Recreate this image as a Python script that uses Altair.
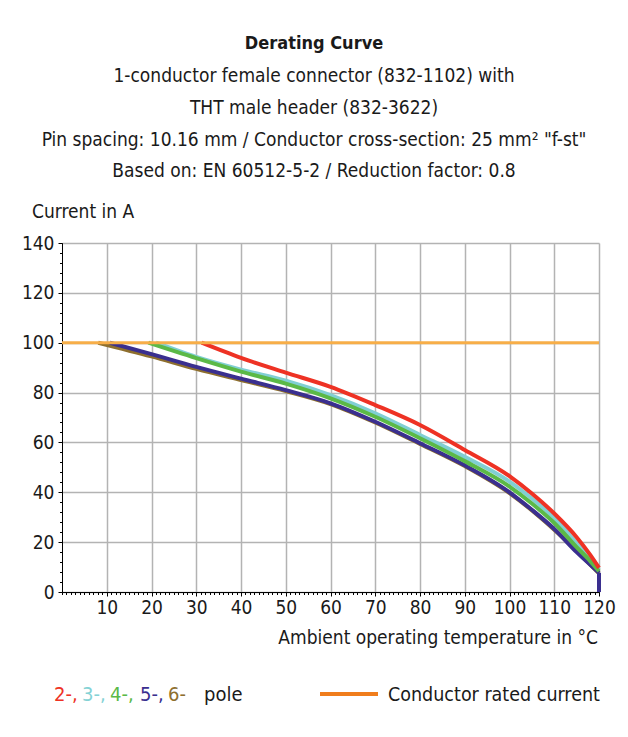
import altair as alt
import pandas as pd

FONT = "Liberation Sans Narrow, DejaVu Sans Condensed, Roboto, sans-serif"
INK = "#1a1a1a"

# ambient temperature (deg C) / current (A)
red_t = [31.2, 40, 50, 60, 70, 80, 90, 100, 105, 110, 115, 118, 120]
red_i = [100, 93.9, 88.0, 82.3, 75.0, 67.0, 57.0, 46.5, 39.5, 31.5, 22.0, 15.0, 9.7]

cyan_t = [21.0, 30, 40, 50, 60, 70, 80, 90, 100, 105, 110, 115, 118, 120]
cyan_i = [100, 94.3, 89.2, 84.8, 79.0, 71.7, 63.0, 54.2, 44.3, 37.5, 29.7, 19.5, 13.5, 9.0]

green_t = [19.3, 30, 40, 50, 60, 70, 80, 90, 100, 105, 110, 115, 118, 120]
green_i = [100, 93.8, 88.4, 83.6, 77.7, 70.3, 61.7, 52.5, 42.3, 35.5, 27.7, 18.0, 12.5, 8.3]

blue_t = [10.7, 20, 30, 40, 50, 60, 70, 80, 90, 100, 105, 110, 115, 118, 120]
blue_i = [100, 95.4, 90.3, 85.6, 81.0, 75.7, 68.3, 59.7, 50.8, 40.0, 33.0, 25.3, 16.0, 11.0, 7.7]

brown_t = [8.1, 20, 30, 40, 50, 60, 70, 80, 90, 100, 110, 120]
brown_i = [100, 94.5, 89.5, 85.0, 80.6, 75.4, 68.0, 59.4, 50.5, 39.7, 25.0, 7.5]

rated_t = [0, 120]
rated_i = [100, 100]

x_major = list(range(10, 121, 10))
y_major = list(range(0, 141, 20))
x_minor = list(range(0, 121, 1))
y_minor = list(range(0, 141, 4))

title_lines = [
    "1-conductor female connector (832-1102) with",
    "THT male header (832-3622)",
    "Pin spacing: 10.16 mm / Conductor cross-section: 25 mm² \"f-st\"",
    "Based on: EN 60512-5-2 / Reduction factor: 0.8",
]
legend_parts = ["2-,", "3-,", "4-,", "5-,", "6-"]
legend_colors = ["#ee3224", "#84d2d5", "#5bb947", "#3a2f8f", "#8e6f2e"]

sx = alt.Scale(domain=[0, 120], nice=False, zero=False)
sy = alt.Scale(domain=[0, 140], nice=False, zero=False)

major_x = alt.Axis(values=x_major, title=None, grid=True, gridColor="#b3b3b3", gridWidth=1.5,
                   domainColor="black", tickColor="black", tickSize=4, labelPadding=2,
                   labelFontSize=19, labelColor=INK, labelFont=FONT, labelFlush=False,
                   labelAngle=0, orient="bottom")
major_y = alt.Axis(values=y_major, title=None, grid=True, gridColor="#b3b3b3", gridWidth=1.5,
                   domainColor="black", tickColor="black", tickSize=4, labelPadding=4,
                   labelFontSize=19, labelColor=INK, labelFont=FONT, labelFlush=False,
                   orient="left")
minor_x = alt.Axis(values=x_minor, title=None, grid=False, labels=False, domain=False,
                   tickColor="black", tickSize=2.5, orient="bottom")
minor_y = alt.Axis(values=y_minor, title=None, grid=False, labels=False, domain=False,
                   tickColor="black", tickSize=2.5, orient="left")


def curve(ts, vals, color, xaxis=None, yaxis=None, width=4):
    df = pd.DataFrame({"t": ts, "i": vals})
    return alt.Chart(df).mark_line(color=color, strokeWidth=width, interpolate="monotone").encode(
        x=alt.X("t:Q", scale=sx, axis=xaxis),
        y=alt.Y("i:Q", scale=sy, axis=yaxis),
    )


def label(text, x, y, size=19, color=INK, align="center", weight="normal"):
    return alt.Chart(pd.DataFrame({"s": [text]})).mark_text(
        font=FONT, fontSize=size, color=color, align=align, baseline="alphabetic", fontWeight=weight
    ).encode(x=alt.value(x), y=alt.value(y), text="s:N")


brown = curve(brown_t, brown_i, "#8e6f2e", minor_x, minor_y)
blue = curve(blue_t, blue_i, "#3a2f8f")
cyan = curve(cyan_t, cyan_i, "#80cfd3")
green = curve(green_t, green_i, "#5bb947")
red = curve(red_t, red_i, "#ee3224")
rated = curve(rated_t, rated_i, "#f7ae48", major_x, major_y, width=3)

drop = alt.Chart(pd.DataFrame({"t": [blue_t[-1]], "i": [blue_i[-1]]})).mark_rule(
    color="#3a2f8f", strokeWidth=4
).encode(
    x=alt.X("t:Q", scale=sx, axis=None),
    y=alt.Y("i:Q", scale=sy, axis=None),
    y2=alt.datum(0),
)

texts = [label("Derating Curve", 252, -194, size=18, weight="bold")]
for k, line in enumerate(title_lines):
    texts.append(label(line, 252, [-161, -129, -97, -66][k]))
texts.append(label("Current in A", -30, -25, size=19, align="left"))
texts.append(label("Ambient operating temperature in °C", 536, 401, size=19, align="right"))

legend_x = [-8, 20, 48, 78, 106]
for part, col, lx in zip(legend_parts, legend_colors, legend_x):
    texts.append(label(part, lx, 458, size=20, color=col, align="left"))
texts.append(label("pole", 142, 458, size=20, align="left"))
texts.append(label("Conductor rated current", 326, 458, size=19.5, align="left"))

legend_line = alt.Chart(pd.DataFrame({"s": ["rated"]})).mark_rule(color="#f07d1c", strokeWidth=4).encode(
    x=alt.value(258), x2=alt.value(316), y=alt.value(451)
)

chart = alt.layer(
    brown, blue, cyan, green, red, drop, rated, legend_line, *texts
).resolve_axis(
    x="independent", y="independent"
).properties(
    width=537, height=349,
    autosize=alt.AutoSizeParams(type="none"),
    padding={"left": 54, "top": 235, "right": 20, "bottom": 125},
).configure_view(stroke=None)

chart.save("out.html", embed_options={"renderer": "svg", "actions": False})
